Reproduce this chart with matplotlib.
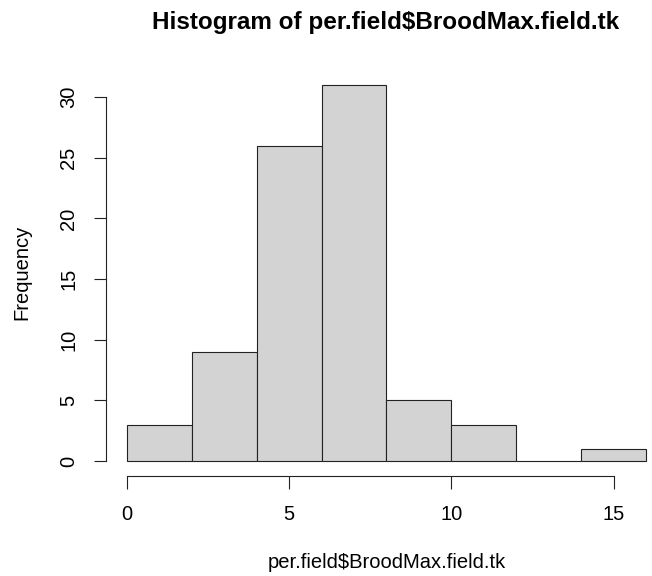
import numpy as np
import matplotlib.pyplot as plt

plt.rcParams['font.family'] = ['Liberation Sans', 'DejaVu Sans']

# histogram bins and counts
bin_edges = [0, 2, 4, 6, 8, 10, 12, 14, 16]
counts = [3, 9, 26, 31, 5, 3, 0, 1]
x_ticks = [0, 5, 10, 15]
y_ticks = [0, 5, 10, 15, 20, 25, 30]

title = 'Histogram of per.field$BroodMax.field.tk'
xlabel = 'per.field$BroodMax.field.tk'
ylabel = 'Frequency'
#================================================================
def main():
    W, H = 652, 576
    fig = plt.figure(figsize=(W/100, H/100), dpi=100)
    ax = fig.add_axes([106/W, 1-476/H, (667-106)/W, (476-70)/H])

    edges = np.array(bin_edges)
    ax.bar(edges[:-1], counts, width=np.diff(edges), align='edge',
           color='#d3d3d3', edgecolor='#222222', linewidth=0.8)

    ax.set_xlim(-0.64, 16.64)
    ax.set_ylim(-1.24, 32.24)
    for s in ['top', 'right']:
        ax.spines[s].set_visible(False)
    ax.spines['bottom'].set_bounds(x_ticks[0], x_ticks[-1])
    ax.spines['left'].set_bounds(y_ticks[0], y_ticks[-1])
    for s in ['bottom', 'left']:
        ax.spines[s].set_linewidth(0.8)
        ax.spines[s].set_color('#222222')

    ax.set_xticks(x_ticks)
    ax.set_yticks(y_ticks)
    ax.set_yticklabels([str(v) for v in y_ticks], rotation=90, va='center')
    ax.tick_params(axis='both', direction='out', length=9, width=0.8,
                   color='#222222', labelsize=14.5)
    ax.tick_params(axis='x', pad=12)
    ax.tick_params(axis='y', pad=11)

    fig.text(387/W, 1-563/H, xlabel, fontsize=14.5, ha='center', va='center')
    fig.text(22/W, 1-272/H, ylabel, fontsize=14.5, rotation=90,
             ha='center', va='center')
    fig.text(386/W, 1-22/H, title, fontsize=17.5, fontweight='bold',
             ha='center', va='center')

    fig.savefig('out.png', dpi=100)
#================================================================
if __name__ == '__main__':
    main()
